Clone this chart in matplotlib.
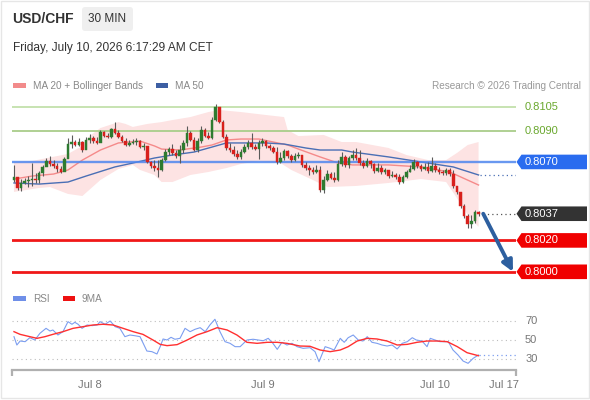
import matplotlib
matplotlib.use('Agg')

import numpy as np
import matplotlib.pyplot as plt
from matplotlib.patches import Polygon, Rectangle, FancyBboxPatch
from matplotlib.transforms import IdentityTransform

plt.rcParams['font.family'] = ['Liberation Sans', 'DejaVu Sans']

# --- price data (30 min bars, USD/CHF) ---
first_open = 0.80585
closes = [
    0.80604, 0.80534, 0.80566, 0.80579, 0.80585, 0.80591, 0.80585, 0.80630, 0.80668, 0.80706,
    0.80687, 0.80674, 0.80655, 0.80636, 0.80719, 0.80814, 0.80827, 0.80808, 0.80827, 0.80776,
    0.80840, 0.80853, 0.80833, 0.80821, 0.80891, 0.80865, 0.80859, 0.80910, 0.80884, 0.80859,
    0.80833, 0.80808, 0.80821, 0.80827, 0.80833, 0.80795, 0.80802, 0.80700, 0.80674, 0.80661,
    0.80649, 0.80712, 0.80763, 0.80782, 0.80757, 0.80738, 0.80776, 0.80821, 0.80884, 0.80840,
    0.80776, 0.80833, 0.80903, 0.80865, 0.80853, 0.80967, 0.81050, 0.80954, 0.80859, 0.80789,
    0.80776, 0.80751, 0.80732, 0.80763, 0.80795, 0.80821, 0.80795, 0.80782, 0.80821, 0.80833,
    0.80802, 0.80789, 0.80763, 0.80700, 0.80725, 0.80770, 0.80738, 0.80712, 0.80738, 0.80744,
    0.80681, 0.80661, 0.80649, 0.80636, 0.80649, 0.80521, 0.80585, 0.80623, 0.80598, 0.80585,
    0.80687, 0.80732, 0.80681, 0.80725, 0.80744, 0.80725, 0.80693, 0.80674, 0.80706, 0.80687,
    0.80642, 0.80661, 0.80636, 0.80649, 0.80610, 0.80617, 0.80604, 0.80572, 0.80604, 0.80636,
    0.80655, 0.80700, 0.80674, 0.80655, 0.80668, 0.80642, 0.80674, 0.80649, 0.80636, 0.80630,
    0.80649, 0.80623, 0.80547, 0.80509, 0.80419, 0.80356, 0.80305, 0.80324, 0.80381, 0.80370,
]
highs = [
    0.80681, 0.80604, 0.80591, 0.80598, 0.80610, 0.80693, 0.80630, 0.80642, 0.80681, 0.80725,
    0.80738, 0.80712, 0.80693, 0.80674, 0.80732, 0.80853, 0.80872, 0.80840, 0.80853, 0.80833,
    0.80859, 0.80878, 0.80865, 0.80859, 0.80903, 0.80897, 0.80884, 0.80916, 0.80954, 0.80903,
    0.80872, 0.80853, 0.80840, 0.80846, 0.80853, 0.80840, 0.80821, 0.80789, 0.80706, 0.80712,
    0.80712, 0.80725, 0.80782, 0.80795, 0.80814, 0.80776, 0.80808, 0.80840, 0.80929, 0.80897,
    0.80859, 0.80853, 0.80929, 0.80916, 0.80891, 0.80986, 0.81069, 0.81044, 0.80967, 0.80878,
    0.80821, 0.80802, 0.80776, 0.80782, 0.80814, 0.80840, 0.80884, 0.80814, 0.80840, 0.80853,
    0.80840, 0.80814, 0.80802, 0.80795, 0.80763, 0.80782, 0.80776, 0.80751, 0.80757, 0.80763,
    0.80744, 0.80700, 0.80681, 0.80668, 0.80681, 0.80674, 0.80610, 0.80649, 0.80636, 0.80636,
    0.80712, 0.80763, 0.80744, 0.80738, 0.80776, 0.80789, 0.80776, 0.80712, 0.80725, 0.80712,
    0.80693, 0.80693, 0.80681, 0.80661, 0.80649, 0.80642, 0.80630, 0.80623, 0.80617, 0.80649,
    0.80681, 0.80719, 0.80706, 0.80687, 0.80693, 0.80700, 0.80732, 0.80693, 0.80668, 0.80649,
    0.80661, 0.80661, 0.80649, 0.80547, 0.80509, 0.80432, 0.80369, 0.80362, 0.80394, 0.80388,
]
lows = [
    0.80572, 0.80521, 0.80515, 0.80559, 0.80540, 0.80547, 0.80566, 0.80566, 0.80610, 0.80674,
    0.80674, 0.80661, 0.80636, 0.80630, 0.80642, 0.80725, 0.80789, 0.80802, 0.80802, 0.80763,
    0.80782, 0.80821, 0.80821, 0.80814, 0.80833, 0.80859, 0.80853, 0.80853, 0.80878, 0.80853,
    0.80827, 0.80802, 0.80802, 0.80814, 0.80808, 0.80789, 0.80776, 0.80693, 0.80661, 0.80642,
    0.80604, 0.80642, 0.80706, 0.80744, 0.80744, 0.80725, 0.80693, 0.80757, 0.80802, 0.80833,
    0.80770, 0.80763, 0.80821, 0.80859, 0.80846, 0.80846, 0.80961, 0.80948, 0.80853, 0.80776,
    0.80763, 0.80738, 0.80719, 0.80719, 0.80757, 0.80782, 0.80782, 0.80776, 0.80719, 0.80802,
    0.80789, 0.80776, 0.80757, 0.80687, 0.80693, 0.80712, 0.80725, 0.80700, 0.80706, 0.80725,
    0.80668, 0.80649, 0.80617, 0.80623, 0.80630, 0.80509, 0.80502, 0.80579, 0.80591, 0.80572,
    0.80579, 0.80674, 0.80668, 0.80661, 0.80712, 0.80712, 0.80681, 0.80661, 0.80668, 0.80661,
    0.80630, 0.80636, 0.80623, 0.80623, 0.80598, 0.80604, 0.80591, 0.80559, 0.80566, 0.80598,
    0.80636, 0.80649, 0.80661, 0.80642, 0.80649, 0.80630, 0.80636, 0.80636, 0.80623, 0.80617,
    0.80617, 0.80610, 0.80534, 0.80496, 0.80407, 0.80343, 0.80279, 0.80279, 0.80311, 0.80356,
]

# --- indicators (bar index, value) ---
ma20_x = [0, 5, 11, 15, 19, 24, 29, 35, 39, 41, 46, 52, 55, 59, 63, 68, 72, 76, 79, 85, 90, 94, 104, 113, 121, 129]
ma20 = [0.80591, 0.80610, 0.80623, 0.80649, 0.80712, 0.80776, 0.80821, 0.80833, 0.80802, 0.80782,
        0.80776, 0.80795, 0.80808, 0.80840, 0.80846, 0.80846, 0.80827, 0.80808, 0.80782, 0.80732,
        0.80693, 0.80681, 0.80681, 0.80668, 0.80636, 0.80553]
upper_x = [0, 5, 15, 19, 21, 24, 29, 31, 33, 37, 41, 44, 49, 54, 57, 63, 70, 75, 76, 79,
           86, 91, 95, 104, 109, 115, 120, 123, 126, 129]
upper = [0.80700, 0.80706, 0.80751, 0.80802, 0.80865, 0.80916, 0.80954, 0.80942, 0.80923, 0.80942,
         0.80954, 0.80967, 0.80986, 0.81018, 0.81031, 0.81018, 0.80999, 0.80986, 0.80903, 0.80865,
         0.80872, 0.80827, 0.80827, 0.80789, 0.80744, 0.80712, 0.80712, 0.80757, 0.80808, 0.80827]
lower_x = [0, 7, 10, 15, 19, 24, 29, 33, 35, 39, 41, 44, 49, 54, 59, 63, 68, 74, 77, 83,
           87, 95, 104, 113, 120, 123, 126, 129]
lower = [0.80509, 0.80534, 0.80540, 0.80496, 0.80483, 0.80585, 0.80655, 0.80681, 0.80649, 0.80617,
         0.80572, 0.80572, 0.80617, 0.80636, 0.80661, 0.80687, 0.80706, 0.80693, 0.80649, 0.80585,
         0.80540, 0.80547, 0.80566, 0.80591, 0.80572, 0.80470, 0.80362, 0.80286]
ma50_x = [0, 7, 15, 20, 28, 33, 39, 44, 50, 55, 59, 63, 70, 75, 81, 85, 91, 94, 104, 113, 122, 129]
ma50 = [0.80566, 0.80559, 0.80572, 0.80610, 0.80668, 0.80693, 0.80725, 0.80744, 0.80763, 0.80795,
        0.80821, 0.80821, 0.80821, 0.80814, 0.80789, 0.80776, 0.80776, 0.80763, 0.80732, 0.80700,
        0.80668, 0.80617]

rsi_x = [0, 0.8, 1.7, 3.1, 4.4, 5.8, 7.2, 8.9, 10, 10.8,
         12.2, 13.6, 15, 16.1, 16.9, 17.8, 18.9, 20.3, 21.7, 23.1,
         23.9, 25.3, 26.7, 28.1, 29.4, 30.8, 32.2, 33.6, 35, 36.9,
         38.3, 39.7, 40.6, 41.4, 42.5, 43.6, 44.7, 46.1, 47.5, 48.9,
         50.3, 51.7, 53.1, 54.4, 55.8, 57.2, 58.6, 60, 61.4, 62.8,
         64.7, 66.4, 67.8, 69.2, 70.6, 71.9, 73.1, 74.4, 75.8, 77.2,
         78.6, 80.3, 82.2, 83.6, 84.7, 86.4, 87.8, 88.9, 90.6, 91.7,
         92.8, 94.2, 95.6, 96.9, 98.1, 99.4, 100.8, 102.2, 103.6, 105,
         106.4, 107.8, 109.2, 110.6, 111.7, 113.3, 114.7, 115.6, 116.9, 118.3,
         119.7, 120.6, 121.9, 123.3, 124.7, 126.1, 127.5, 129]
rsi = [53.6, 44.6, 48.9, 48.2, 52.5, 50.0, 57.2, 62.6, 59.7, 60.8,
       55.4, 59.0, 69.8, 67.0, 69.1, 67.0, 62.6, 66.2, 65.5, 66.2,
       69.8, 67.0, 70.5, 64.4, 62.6, 53.6, 55.4, 54.6, 53.6, 38.1,
       37.4, 34.9, 42.8, 51.1, 50.0, 52.9, 50.8, 51.8, 62.6, 59.0,
       61.6, 63.3, 59.0, 66.2, 72.4, 59.0, 48.2, 46.4, 42.8, 42.8,
       50.0, 50.8, 50.0, 49.2, 51.8, 46.4, 39.9, 47.5, 44.6, 46.4,
       42.8, 41.0, 41.7, 37.4, 26.5, 42.8, 41.0, 39.2, 51.8, 47.5,
       52.5, 55.4, 50.0, 48.9, 53.6, 47.5, 46.4, 44.6, 43.5, 44.6,
       40.3, 46.4, 48.2, 52.5, 50.0, 48.9, 42.8, 51.8, 50.0, 48.2,
       48.2, 48.2, 39.2, 33.8, 27.3, 24.8, 30.2, 33.8]
ma9_x = [0, 1.7, 4.4, 6.4, 8.6, 10.8, 13.6, 16.4, 19.2, 21.9,
         24.7, 27.5, 30.3, 33.1, 35.8, 38.6, 40.6, 42.5, 45.3, 48.1,
         50.8, 53.6, 56.4, 59.2, 61.9, 64.7, 67.5, 70.3, 73.1, 75.8,
         79.4, 82.2, 85, 87.8, 90.6, 92.8, 95.3, 98.1, 100.8, 103.6,
         106.4, 109.2, 111.9, 114.7, 117.5, 120.3, 123.1, 125.8, 129]
ma9 = [59.0, 56.1, 53.6, 51.8, 53.6, 56.1, 59.0, 62.6, 64.4, 66.2,
       67.0, 66.2, 62.6, 59.0, 56.1, 50.0, 45.3, 43.9, 45.0, 50.0,
       55.4, 59.0, 63.3, 60.8, 55.4, 47.5, 46.4, 47.5, 47.5, 46.4,
       43.5, 43.2, 39.2, 37.4, 39.2, 42.8, 48.9, 51.8, 51.1, 48.9,
       44.6, 45.3, 47.5, 48.9, 48.9, 48.2, 42.8, 36.3, 33.0]

# key levels
resist_levels = [0.8105, 0.8090]
pivot_level = 0.8070
support_levels = [0.8020, 0.8000]
target = 0.8000
rsi_levels = [70, 50, 30]

day_ticks = [21, 69, 117, 136]
day_labels = ['Jul 8', 'Jul 9', 'Jul 10', 'Jul 17']

W, H = 590, 400
fig = plt.figure(figsize=(W / 100, H / 100), dpi=100)


def px_axes(x0, y0, x1, y1):
    return fig.add_axes([x0 / W, 1 - y1 / H, (x1 - x0) / W, (y1 - y0) / H])


def px_rect(x0, y0, x1, y1, color):
    fig.add_artist(Rectangle((x0, H - y1), x1 - x0, y1 - y0, fc=color, ec='none',
                             transform=IdentityTransform()))


ax = px_axes(12, 75, 516, 282)
rax = px_axes(12, 310, 516, 370)
xlim = (-0.55, 139.4)
for a in (ax, rax):
    a.set_xlim(*xlim)
    for s in a.spines.values():
        s.set_visible(False)
ax.set_ylim(0.79935, 0.81254)
ax.set_xticks([])
ax.set_yticks([])

# bollinger band + averages
ax.fill(upper_x + lower_x[::-1], upper + lower[::-1], color='#fde3e3', lw=0, zorder=1)
ax.plot(ma20_x, ma20, color='#f58a8a', lw=1.0, zorder=2)
ax.plot(ma50_x, ma50, color='#4a6fb5', lw=1.0, zorder=2)

# level lines
ax.axhline(resist_levels[0], color='#c3e0ab', lw=1.3, zorder=2)
ax.axhline(resist_levels[1], color='#a9cd8a', lw=1.3, zorder=2)
ax.axhline(pivot_level, color='#4f86ee', lw=1.7, alpha=0.85, zorder=2)
for lv in support_levels:
    ax.axhline(lv, color='#f01818', lw=2.0, zorder=2)

# candles
n = len(closes)
idx = np.arange(n)
c = np.array(closes)
o = np.array([first_open] + closes[:-1])
cols = np.where(c >= o, '#2e7b30', '#d8201c')
ax.vlines(idx, lows, highs, color='#5a5a5a', lw=0.8, zorder=3)
ax.bar(idx, np.maximum(np.abs(c - o), 0.00003), bottom=np.minimum(o, c), width=0.72,
       color=cols, edgecolor=cols, lw=0.3, zorder=4)

# dotted extensions of last values
ax.hlines(closes[-1], n + 0.2, xlim[1], colors='#555555', linestyles=(0, (1, 2.5)), lw=0.9)
ax.hlines(ma50[-1], n - 0.6, xlim[1], colors='#4a6fb5', linestyles=(0, (1, 2.5)), lw=0.9)

# forecast arrow
ax.annotate('', xy=(0.994, target), xycoords=ax.get_yaxis_transform(),
            xytext=(n + 0.3, closes[-1]), textcoords='data',
            arrowprops=dict(arrowstyle='-|>', color='#2d5f9f', lw=2.8, mutation_scale=16,
                            shrinkA=0, shrinkB=0),
            annotation_clip=False, zorder=6)


# right-hand level tags
def tag(level, face):
    y = ax.transData.transform((0, level))[1]
    verts = [(516.5, y), (521.5, y + 7.3), (587, y + 7.3), (587, y - 7.3), (521.5, y - 7.3)]
    fig.add_artist(Polygon(verts, closed=True, fc=face, ec='none', transform=IdentityTransform()))
    fig.text(525 / W, y / H, f'{level:.4f}', color='white', fontsize=8, va='center', ha='left')


for lv in resist_levels:
    ax.text(1.018, lv, f'{lv:.4f}', transform=ax.get_yaxis_transform(), color='#6aa82e',
            fontsize=8, va='center', ha='left')
tag(pivot_level, '#2a6cef')
tag(round(closes[-1], 4), '#333333')
for lv in support_levels:
    tag(lv, '#f00000')

# RSI panel
rax.set_ylim(17.6, 82.4)
for lv in rsi_levels:
    rax.axhline(lv, color='#bdbdbd', lw=0.8, linestyle=(0, (1, 3)))
    rax.text(1.018, lv, str(lv), transform=rax.get_yaxis_transform(), color='#777777',
             fontsize=8, va='center', ha='left')
rax.plot(rsi_x, rsi, color='#7c9ef0', lw=0.8)
rax.plot(ma9_x, ma9, color='#ff3030', lw=1.0)
rax.hlines(rsi[-1], rsi_x[-1], xlim[1], colors='#7c9ef0', linestyles=(0, (1, 2.5)), lw=0.9)
rax.set_yticks([])
rax.spines['bottom'].set_visible(True)
rax.spines['bottom'].set_color('#b0b0b0')
rax.spines['bottom'].set_linewidth(1.6)
rax.set_xticks(day_ticks)
rax.set_xticklabels(day_labels)
rax.tick_params(axis='x', which='major', length=0, labelsize=8, labelcolor='#777777', pad=7)
rax.set_xticks(list(xlim), minor=True)
rax.tick_params(axis='x', which='minor', length=4, width=1.6, color='#b0b0b0', direction='out')

# header
fig.text(12 / W, 1 - 19 / H, 'USD/CHF', fontsize=10, fontweight='bold', color='#333333', va='center')
fig.add_artist(FancyBboxPatch((82, H - 31), 51, 24, boxstyle='round,pad=0,rounding_size=3',
                              fc='#efefef', ec='none', transform=IdentityTransform()))
fig.text(107.5 / W, 1 - 19 / H, '30 MIN', fontsize=8.5, color='#333333', va='center', ha='center')
fig.text(13 / W, 1 - 48 / H, 'Friday, July 10, 2026 6:17:29 AM CET', fontsize=8.6,
         color='#333333', va='center')

# legends
px_rect(13, 83, 26, 88, '#f28b8b')
fig.text(33 / W, 1 - 86 / H, 'MA 20 + Bollinger Bands', fontsize=7.2, color='#888888', va='center')
px_rect(156, 83, 168, 88, '#3d5fa3')
fig.text(175 / W, 1 - 86 / H, 'MA 50', fontsize=7.2, color='#888888', va='center')
fig.text(581 / W, 1 - 86 / H, 'Research \u00a9 2026 Trading Central', fontsize=7.2,
         color='#999999', va='center', ha='right')
px_rect(13, 296, 26, 301, '#6f8fe8')
fig.text(33 / W, 1 - 298.5 / H, 'RSI', fontsize=7.2, color='#888888', va='center')
px_rect(63, 296, 75, 301, '#ee1111')
fig.text(82 / W, 1 - 298.5 / H, '9MA', fontsize=7.2, color='#888888', va='center')

# outer frame
fig.add_artist(Rectangle((1, 2), W - 2.5, H - 3, fc='none', ec='#e6e6e6', lw=1.0,
                         transform=IdentityTransform()))

fig.savefig('out.png', dpi=100)
